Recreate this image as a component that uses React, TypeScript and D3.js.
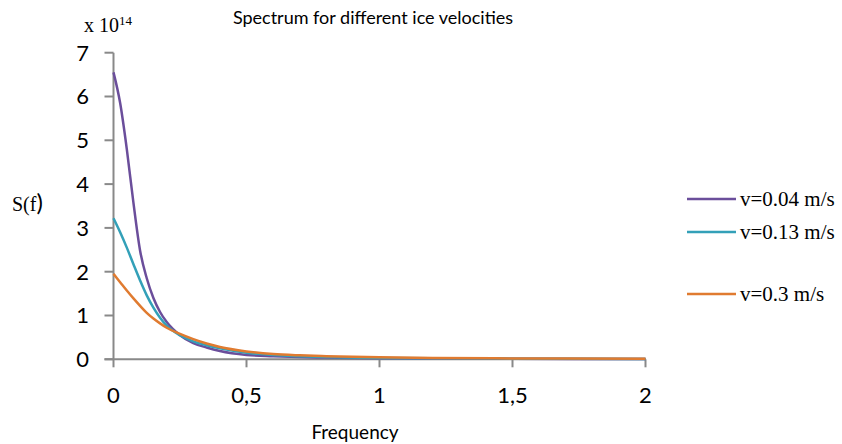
import React from "react";
import * as d3 from "d3";

const freqs = [0, 0.025, 0.05, 0.075, 0.1, 0.125, 0.15, 0.175, 0.2, 0.25, 0.3, 0.35, 0.4, 0.5, 0.6, 0.7, 0.8, 1.0, 1.2, 1.5, 2.0];
const v004 = [6.55, 5.85, 4.8, 3.57, 2.48, 1.85, 1.4, 1.08, 0.85, 0.55, 0.37, 0.27, 0.19, 0.1, 0.07, 0.05, 0.04, 0.025, 0.02, 0.012, 0.008];
const v013 = [3.22, 2.9, 2.55, 2.17, 1.8, 1.46, 1.18, 0.95, 0.77, 0.55, 0.41, 0.32, 0.25, 0.15, 0.1, 0.07, 0.05, 0.03, 0.022, 0.015, 0.009];
const v03 = [1.95, 1.76, 1.57, 1.39, 1.22, 1.06, 0.93, 0.82, 0.72, 0.58, 0.46, 0.36, 0.28, 0.18, 0.12, 0.09, 0.07, 0.045, 0.03, 0.02, 0.012];

const seriesNames = ["v=0.04 m/s", "v=0.13 m/s", "v=0.3 m/s"];
const seriesColors = ["#6B4E9B", "#33A0B8", "#E07B30"];
const seriesValues = [v004, v013, v03];
const legendY = [199, 232, 294];

const yTicks = [0, 1, 2, 3, 4, 5, 6, 7];
const xTicks = [0, 0.5, 1, 1.5, 2];
const xTickLabels = ["0", "0,5", "1", "1,5", "2"];

export default function App() {
  const x = d3.scaleLinear().domain([0, 2]).range([113.5, 645.5]);
  const y = d3.scaleLinear().domain([0, 7]).range([359.3, 52.7]);
  const line = d3
    .line<number>()
    .x((_, i) => x(freqs[i]))
    .y((d) => y(d))
    .curve(d3.curveMonotoneX);
  const axisColor = "#898989";
  const sans = "Lato, 'Open Sans', sans-serif";
  const serif = "'Liberation Serif', 'DejaVu Serif', serif";
  return (
    <div style={{ position: "absolute", left: 0, top: 0 }}>
      <svg width={842} height={444} style={{ display: "block", background: "#fff" }}>
        <text x={373} y={24} textAnchor="middle" fontFamily={sans} fontSize={18} fill="#000">
          Spectrum for different ice velocities
        </text>
        <text x={84} y={32} fontFamily={serif} fontSize={20} fill="#000">
          x 10<tspan dy={-7} fontSize={13}>14</tspan>
        </text>
        <text x={12} y={211} fontFamily={serif} fontSize={20} fill="#000">
          S(f<tspan fontFamily={sans} fontSize={24}>)</tspan>
        </text>
        {/* y axis */}
        <line x1={x(0)} x2={x(0)} y1={y(7)} y2={y(0)} stroke={axisColor} strokeWidth={2} />
        {yTicks.map((t) => (
          <g key={"y" + t}>
            <line x1={x(0) - 9} x2={x(0)} y1={y(t)} y2={y(t)} stroke={axisColor} strokeWidth={2} />
            <text x={89} y={y(t)} dy="0.36em" textAnchor="end" fontFamily={sans} fontSize={22} fill="#000">
              {t}
            </text>
          </g>
        ))}
        {/* x axis */}
        <line x1={x(0) - 9} x2={x(2)} y1={y(0)} y2={y(0)} stroke={axisColor} strokeWidth={2} />
        {xTicks.map((t, i) => (
          <g key={"x" + t}>
            <line x1={x(t)} x2={x(t)} y1={y(0)} y2={y(0) + 8} stroke={axisColor} strokeWidth={2} />
            <text x={x(t)} y={403} textAnchor="middle" fontFamily={sans} fontSize={22} fill="#000">
              {xTickLabels[i]}
            </text>
          </g>
        ))}
        <text x={355} y={439} textAnchor="middle" fontFamily={sans} fontSize={19} fill="#000">
          Frequency
        </text>
        {seriesValues.map((vals, i) => (
          <path key={"s" + i} d={line(vals) || ""} fill="none" stroke={seriesColors[i]} strokeWidth={2.5} />
        ))}
        {seriesNames.map((n, i) => (
          <g key={"l" + i}>
            <line x1={687} x2={736} y1={legendY[i]} y2={legendY[i]} stroke={seriesColors[i]} strokeWidth={2.5} />
            <text x={740} y={legendY[i]} dy="0.33em" fontFamily={serif} fontSize={21} fill="#000">
              {n}
            </text>
          </g>
        ))}
      </svg>
    </div>
  );
}
